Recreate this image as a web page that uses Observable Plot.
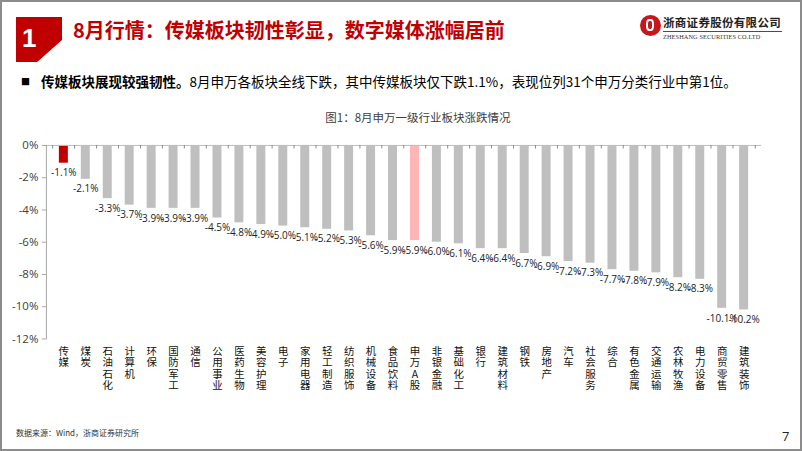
<!DOCTYPE html>
<html><head><meta charset="utf-8">
<script src="https://cdn.jsdelivr.net/npm/d3@7"></script>
<script src="https://cdn.jsdelivr.net/npm/@observablehq/plot@0.6"></script>
<style>
html,body{margin:0;padding:0;background:#fff;}
#page{position:relative;width:802px;height:451px;box-sizing:border-box;border:2px solid #8c8c8c;overflow:hidden;font-family:"Noto Sans CJK SC","Noto Sans",sans-serif;}
.abs{position:absolute;white-space:nowrap;}
#block{left:14px;top:15px;width:46px;height:45px;background:#C00000;clip-path:polygon(0 0,100% 0,100% 51%,46% 100%,0 100%);}
#num{left:20px;top:16px;font:bold 26px "Liberation Sans",Arial,sans-serif;color:#fff;line-height:40px;}
#title{left:71px;top:13px;font-weight:bold;font-size:20px;color:#C00000;line-height:30px;}
#bullet{left:19px;top:70px;font-size:9px;line-height:20px;color:#000;}
#sub{left:39px;top:68px;font-size:13.5px;line-height:22px;color:#000;}
#sub b{font-weight:bold;}
#ctitle{left:0;width:802px;text-align:center;top:106px;font-size:11.5px;line-height:18px;color:#404040;padding-left:30px;box-sizing:border-box;}
#chart{left:-2px;top:126px;}
#src{left:14px;top:424px;font-size:8px;line-height:14px;color:#333;}
#pg{left:780px;top:425px;font-size:13px;line-height:18px;color:#222;font-family:"Open Sans",sans-serif;}
#logo{left:638px;top:13px;width:21px;height:21px;border-radius:50%;background:#C8161D;}
#logo:after{content:"";position:absolute;left:6px;top:4px;width:8px;height:12px;border:2px solid #fff;border-radius:40%;box-sizing:border-box;}
#lcn{left:661px;top:12px;font-size:11.5px;font-weight:bold;color:#222;line-height:16px;letter-spacing:0.3px;}
#lline{left:661px;top:29px;width:119px;height:1px;background:#C8161D;}
#len{left:661px;top:30px;font:6.3px "Liberation Serif",serif;color:#333;line-height:9px;letter-spacing:0.1px;}
</style></head>
<body>
<div id="page">
  <div class="abs" id="block"></div>
  <div class="abs" id="num">1</div>
  <div class="abs" id="title">8月行情：传媒板块韧性彰显，数字媒体涨幅居前</div>
  <div class="abs" id="logo"></div>
  <div class="abs" id="lcn">浙商证券股份有限公司</div>
  <div class="abs" id="lline"></div>
  <div class="abs" id="len">ZHESHANG SECURITIES CO.LTD</div>
  <div class="abs" id="bullet">■</div>
  <div class="abs" id="sub"><b>传媒板块展现较强韧性。</b>8月申万各板块全线下跌，其中传媒板块仅下跌1.1%，表现位列31个申万分类行业中第1位。</div>
  <div class="abs" id="ctitle">图1：8月申万一级行业板块涨跌情况</div>
  <div class="abs" id="chart"></div>
  <div class="abs" id="src">数据来源：Wind，浙商证券研究所</div>
  <div class="abs" id="pg">7</div>
</div>
<script>
const categories = ["传媒","煤炭","石油石化","计算机","环保","国防军工","通信","公用事业","医药生物","美容护理","电子","家用电器","轻工制造","纺织服饰","机械设备","食品饮料","申万A股","非银金融","基础化工","银行","建筑材料","钢铁","房地产","汽车","社会服务","综合","有色金属","交通运输","农林牧渔","电力设备","商贸零售","建筑装饰"];
const changes = [-1.1,-2.1,-3.3,-3.7,-3.9,-3.9,-3.9,-4.5,-4.8,-4.9,-5.0,-5.1,-5.2,-5.3,-5.6,-5.9,-5.9,-6.0,-6.1,-6.4,-6.4,-6.7,-6.9,-7.2,-7.3,-7.7,-7.8,-7.9,-8.2,-8.3,-10.1,-10.2];
const yTicks = [0,-2,-4,-6,-8,-10,-12];
const highlight = "传媒";
const benchmark = "申万A股";

const data = categories.map((c,i)=>({cat:c, value:changes[i]}));
const W = 802, H = 285, mL = 46, mR = 39, mT = 17, mB = 74;
const step = (W - mL - mR) / categories.length;
const colorOf = d => d.cat === highlight ? "#C00000" : d.cat === benchmark ? "#FFB5B5" : "#BFBFBF";

const chart = Plot.plot({
  width: W, height: H,
  marginLeft: mL, marginRight: mR, marginTop: mT, marginBottom: mB,
  style: {fontFamily: "'Open Sans','Noto Sans CJK SC',sans-serif", background: "transparent", overflow: "visible"},
  x: {domain: categories, paddingInner: 0.585, paddingOuter: 0.2925, axis: null, label: null},
  y: {domain: [-12, 0], axis: null, label: null},
  color: {type: "identity"},
  marks: [
    Plot.barY(data, {x: "cat", y: "value", fill: colorOf}),
    Plot.ruleY([0], {stroke: "#BFBFBF", strokeWidth: 1}),
    Plot.ruleX(data, {x: "cat", y1: 0, y2: -0.22, dx: -step/2, stroke: "#8c8c8c"}),
    Plot.ruleX(data.slice(-1), {x: "cat", y1: 0, y2: -0.22, dx: step/2, stroke: "#8c8c8c"}),
    Plot.frame({anchor: "left", stroke: "#A6A6A6"}),
    Plot.axisY({ticks: yTicks, tickFormat: d => d + "%", tickSize: 4, tickPadding: 4, fontSize: 11.5, stroke: "#A6A6A6", fill: "#404040", label: null}),
    Plot.axisX({tickSize: 0, tickPadding: 8, tickFormat: d => Array.from(d).join("\n"), fontSize: 10.5, lineHeight: 1.08, fill: "#111", fontFamily: "'Noto Sans CJK SC',sans-serif", label: null}),
    Plot.text(data, {x: "cat", y: "value", text: d => d.value.toFixed(1) + "%", dy: 10, fontSize: 10, fill: "#222"})
  ]
});
document.getElementById("chart").appendChild(chart);
</script>
</body></html>
